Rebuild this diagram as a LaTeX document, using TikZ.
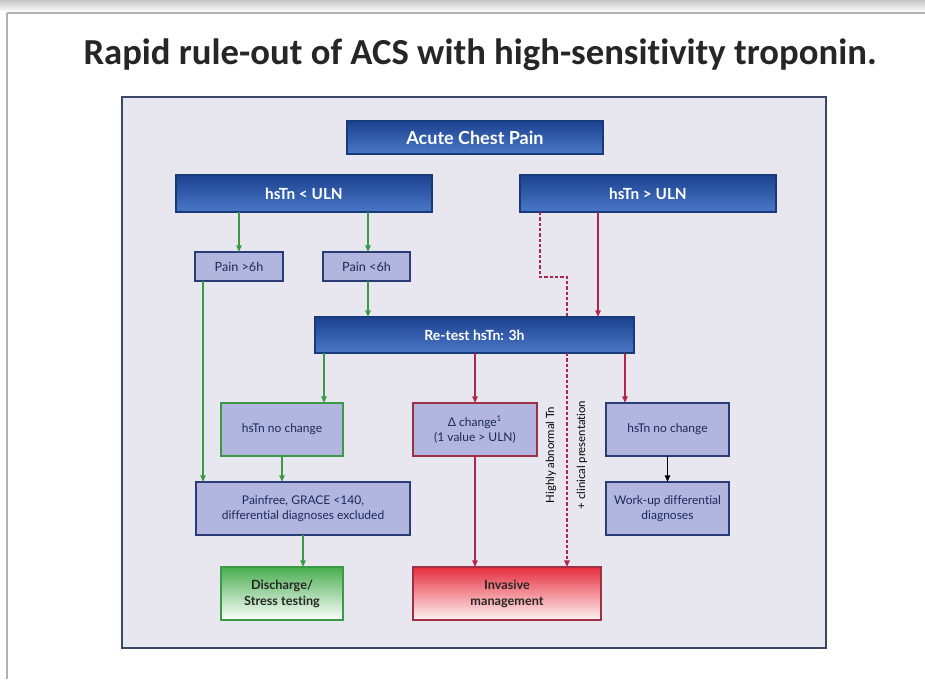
\documentclass[tikz,border=0pt]{standalone}
\usepackage{fontspec}
\setmainfont{Lato}[Ligatures=NoCommon]
\newfontfamily\titlefont{Carlito}[Ligatures=NoCommon]
\usetikzlibrary{arrows.meta,calc}
\definecolor{framebg}{HTML}{E8E7F0}
\definecolor{frameline}{HTML}{3A4868}
\definecolor{bluetop}{HTML}{1C4290}
\definecolor{bluebot}{HTML}{4A78C6}
\definecolor{blueline}{HTML}{173A7A}
\definecolor{lav}{HTML}{B2B5DE}
\definecolor{lavline}{HTML}{2A3C78}
\definecolor{navytext}{HTML}{1A2A5A}
\definecolor{grn}{HTML}{3A9A45}
\definecolor{rd}{HTML}{B0264A}
\definecolor{grntop}{HTML}{48AE4E}
\definecolor{redtop}{HTML}{E52E3C}
\definecolor{redline}{HTML}{9E3045}
\tikzset{
  bluebox/.style={draw=blueline,line width=1.2pt,top color=bluetop,bottom color=bluebot,
    text=white,font=\bfseries,inner sep=0pt,outer sep=0pt,align=center},
  lavbox/.style={draw=lavline,line width=1.5pt,fill=lav,text=navytext,font=\fontsize{9}{11}\selectfont,
    inner sep=0pt,outer sep=0pt,align=center},
  garrow/.style={draw=grn,line width=1.1pt,-{Triangle[length=5pt,width=4pt]}},
  rarrow/.style={draw=rd,line width=1.1pt,-{Triangle[length=5pt,width=4pt]}},
  karrow/.style={draw=black,line width=1.1pt,-{Triangle[length=5pt,width=4pt]}},
  rdash/.style={draw=rd,line width=1.9pt,dash pattern=on 2.5pt off 1.5pt},
  vlabel/.style={rotate=90,text=black,font=\fontsize{8.5}{10}\selectfont,inner sep=0pt}
}
\begin{document}
\begin{tikzpicture}[x=0.75pt,y=-0.75pt]
\useasboundingbox (0,0) rectangle (925,679);
\fill[white] (0,0) rectangle (925,679);
\shade[top color=gray!45,bottom color=white] (0,0) rectangle (925,12);
\draw[gray!60,line width=1pt] (7,13) -- (925,13);
\draw[gray!60,line width=1pt] (7,13) -- (7,679);
\node[font=\titlefont\bfseries\fontsize{27.5}{32}\selectfont,text=black!85] (title) at (480,55) {Rapid rule-out of ACS with high-sensitivity troponin.};
\node[draw=frameline,line width=1.5pt,fill=framebg,minimum width=528pt,minimum height=413.25pt,inner sep=0pt] (frame) at (474,372.5) {};
% boxes
\node[bluebox,minimum width=192pt,minimum height=24.75pt,font=\bfseries\fontsize{13.5}{15}\selectfont] (acp) at (475,137.5) {Acute Chest Pain};
\node[bluebox,minimum width=192pt,minimum height=27.75pt,font=\bfseries\fontsize{11.5}{13}\selectfont] (lt) at (304,193.5) {hsTn < ULN};
\node[bluebox,minimum width=192pt,minimum height=27.75pt,font=\bfseries\fontsize{11.5}{13}\selectfont] (gt) at (648,193.5) {hsTn > ULN};
\node[lavbox,minimum width=66pt,minimum height=21.75pt,font=\fontsize{9.5}{11}\selectfont] (p6) at (239,266.5) {Pain >6h};
\node[lavbox,minimum width=65.25pt,minimum height=21.75pt,font=\fontsize{9.5}{11}\selectfont] (p6b) at (366.5,266.5) {Pain <6h};
\node[bluebox,minimum width=239.25pt,minimum height=27pt,font=\bfseries\fontsize{10.5}{12}\selectfont] (retest) at (474.5,335) {Re-test hsTn: 3h};
\node[lavbox,draw=grn,minimum width=91.5pt,minimum height=39.75pt] (nc1) at (282,429.5) {hsTn no change};
\node[lavbox,draw=redline,minimum width=93pt,minimum height=39.75pt] (dc) at (475,429.5) {Δ change\textsuperscript{1}\\(1 value > ULN)};
\node[lavbox,minimum width=92.25pt,minimum height=39.75pt] (nc2) at (667.5,429.5) {hsTn no change};
\node[lavbox,minimum width=160.5pt,minimum height=39.75pt] (pf) at (303,508.5) {Painfree, GRACE <140,\\differential diagnoses excluded};
\node[lavbox,minimum width=92.25pt,minimum height=39.75pt] (wu) at (667.5,508.5) {Work-up differential\\diagnoses};
\node[draw=grn,line width=1.5pt,top color=grntop,bottom color=white,text=black!85,font=\bfseries\fontsize{9.5}{12}\selectfont,
  inner sep=0pt,outer sep=0pt,align=center,minimum width=91.5pt,minimum height=39.75pt] (dis) at (282,593.5) {Discharge/\\Stress testing};
\node[draw=redline,line width=1.5pt,top color=redtop,bottom color=red!4,text=black!85,font=\bfseries\fontsize{9.5}{12}\selectfont,
  inner sep=0pt,outer sep=0pt,align=center,minimum width=141pt,minimum height=39.75pt] (inv) at (507,593.5) {Invasive\\management};
% green arrows
\draw[garrow] (p6.north |- lt.south) -- (p6.north);
\coordinate (b1) at ($(p6b.north)+(1.5,0)$);
\coordinate (b2) at ($(p6b.south)+(1.5,0)$);
\draw[garrow] (b1 |- lt.south) -- (b1);
\draw[garrow] (b2) -- (b2 |- retest.north);
\coordinate (a1) at ($(p6.south west)+(8,0)$);
\draw[garrow] (a1) -- (a1 |- pf.north);
\coordinate (a2) at ($(nc1.north east)+(-19,0)$);
\draw[garrow] (a2 |- retest.south) -- (a2);
\draw[garrow] (nc1.south) -- (nc1.south |- pf.north);
\draw[garrow] (pf.south) -- (pf.south |- dis.north);
% red arrows
\draw[rarrow] (dc.north |- retest.south) -- (dc.north);
\draw[rarrow] (dc.south) -- (dc.south |- inv.north);
\coordinate (a3) at ($(nc2.north west)+(19,0)$);
\draw[rarrow] (a3 |- retest.south) -- (a3);
\draw[karrow] (nc2.south) -- (wu.north);
\coordinate (a4) at ($(gt.south west)+(78,0)$);
\draw[rarrow] (a4) -- (a4 |- retest.north);
% dashed path
\coordinate (d0) at ($(gt.south west)+(20,0)$);
\coordinate (d1) at (540,277);
\coordinate (d2) at (567,277);
\draw[rdash] (d0) -- (d1) -- (d2) -- (d2 |- retest.north);
\draw[rdash,-{Triangle[length=5pt,width=4pt]}] (d2 |- retest.south) -- (d2 |- inv.north);
\node[vlabel] (lab1) at (551,455) {Highly abnormal Tn};
\node[vlabel] (lab2) at (582,455) {+ clinical presentation};
\end{tikzpicture}
\end{document}
